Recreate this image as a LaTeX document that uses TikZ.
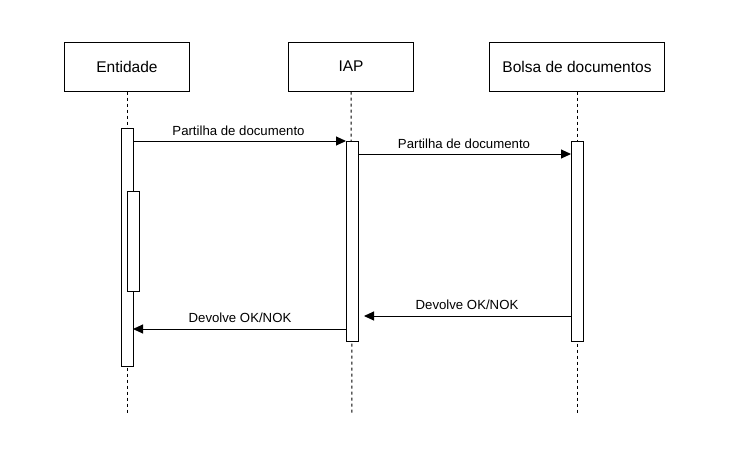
\documentclass[tikz,border=0pt]{standalone}
\usepackage{fontspec}
\setmainfont{Liberation Sans}
\usetikzlibrary{arrows.meta}
\begin{document}
\begin{tikzpicture}[x=1pt,y=-1pt,
  actor/.style={draw=black,line width=1pt,fill=white,minimum width=125pt,minimum height=49pt,inner sep=0pt,font=\fontsize{15.5}{18}\selectfont},
  lifeline/.style={draw=black,line width=1pt,dash pattern=on 3pt off 3pt},
  actbox/.style={draw=black,line width=1pt,fill=white},
  msg/.style={draw=black,line width=1pt,-{Triangle[length=10pt,width=9pt]}},
  mlabel/.style={font=\fontsize{13.2}{15}\selectfont,inner sep=0pt,anchor=base}]
\useasboundingbox (0,0) rectangle (737,467);
% actors
\node[actor] (ent) at (127,66.5) {Entidade};
\node[actor] (iap) at (351,66.5) {IAP};
\node[actor,minimum width=175pt] (bol) at (577,66.5) {Bolsa de documentos};
% lifeline ends
\coordinate (entend) at (127,415);
\coordinate (iapend) at (352,415);
\coordinate (bolend) at (577,415);
\draw[lifeline] (ent.south) -- (entend);
\draw[lifeline] (iap.south) -- (iapend);
\draw[lifeline] (bol.south) -- (bolend);
% activations
\draw[actbox] (121,128) rectangle (133,366);
\draw[actbox] (127,191) rectangle (139,291);
\draw[actbox] (346,141) rectangle (358,341);
\draw[actbox] (571,141) rectangle (583,341);
\coordinate (a1s) at (133,141);
\coordinate (a1e) at (346,141);
\coordinate (a2s) at (358,154);
\coordinate (a2e) at (571,154);
\coordinate (a3s) at (571,316);
\coordinate (a3e) at (364,316);
\coordinate (a4s) at (346,329);
\coordinate (a4e) at (133,329);
\draw[msg] (a1s) -- (a1e);
\draw[msg] (a2s) -- (a2e);
\draw[msg] (a3s) -- (a3e);
\draw[msg] (a4s) -- (a4e);
\node[mlabel] (l1) at (238.5,135.5) {Partilha de documento};
\node[mlabel] (l2) at (464,148.5) {Partilha de documento};
\node[mlabel] (l3) at (467,309.5) {Devolve OK/NOK};
\node[mlabel] (l4) at (240,322.5) {Devolve OK/NOK};
\end{tikzpicture}
\end{document}
